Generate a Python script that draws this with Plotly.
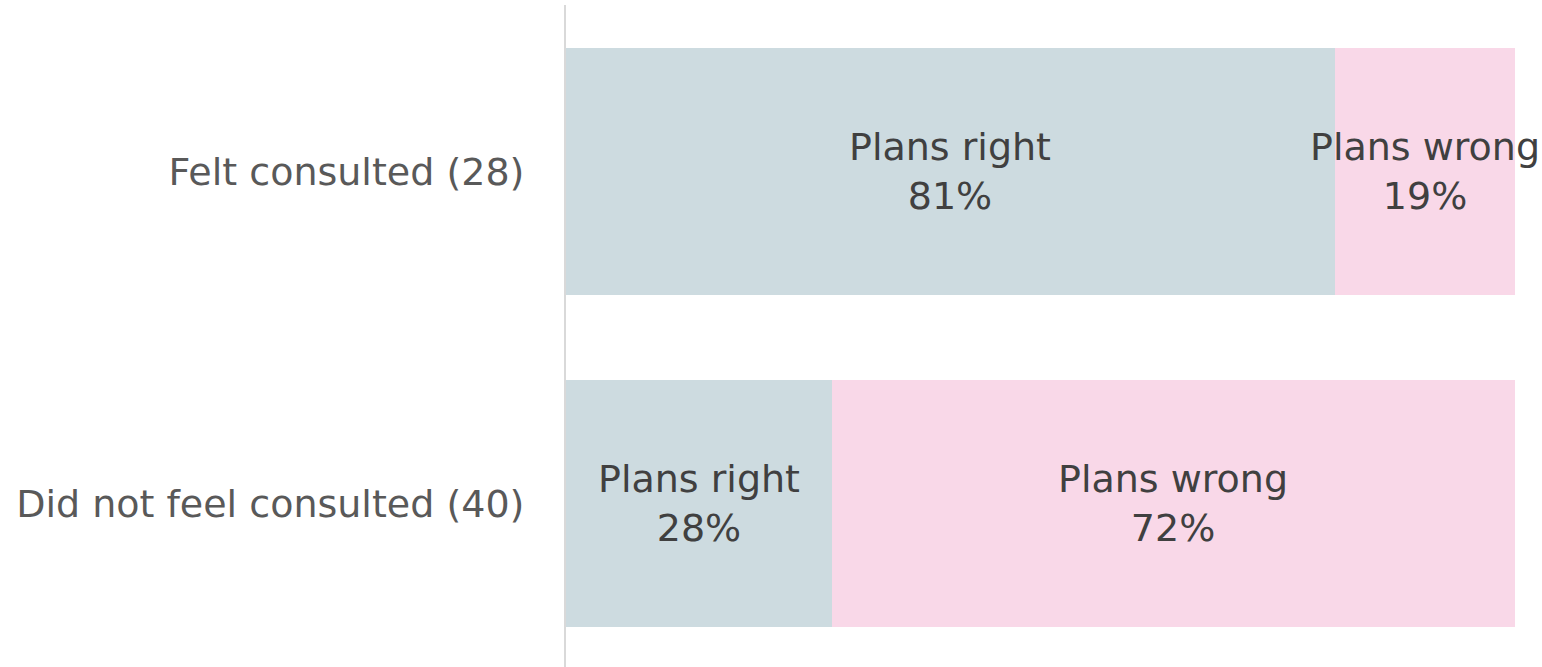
import plotly.graph_objects as go

# 데이터
categories = ["Felt consulted (28)", "Did not feel consulted (40)"]
plans_right = [81, 28]
plans_wrong = [19, 72]
series_names = ["Plans right", "Plans wrong"]

COLORS = {
    "right": "#CDDBE0",
    "wrong": "#F9D8E8",
    "tick": "#595959",
    "label": "#404040",
    "axis": "#D9D9D9",
}
FONT = "'DejaVu Sans', Verdana, sans-serif"
FONT_SIZE = 38

fig = go.Figure()
for name, vals, color in [
    (series_names[0], plans_right, COLORS["right"]),
    (series_names[1], plans_wrong, COLORS["wrong"]),
]:
    fig.add_trace(go.Bar(
        y=categories,
        x=vals,
        name=name,
        orientation="h",
        marker=dict(color=color, line=dict(width=0)),
        width=0.744,
        textposition="none",
        hoverinfo="skip",
    ))

# 구간 중앙에 라벨 (막대 밖으로 넘쳐도 그대로)
for i, cat in enumerate(categories):
    left = 0
    for name, vals in [(series_names[0], plans_right), (series_names[1], plans_wrong)]:
        v = vals[i]
        fig.add_annotation(
            x=left + v / 2, y=cat,
            text=f"{name}<br>{v}%",
            showarrow=False,
            font=dict(family=FONT, size=FONT_SIZE, color=COLORS["label"]),
            xanchor="center", yanchor="middle",
        )
        left += v

fig.update_layout(
    barmode="stack",
    width=1542, height=667,
    margin=dict(l=566, r=27, t=5, b=0),
    paper_bgcolor="white",
    plot_bgcolor="white",
    showlegend=False,
    font=dict(family=FONT, size=FONT_SIZE, color=COLORS["tick"]),
)
fig.update_xaxes(range=[0, 100], visible=False, showgrid=False, zeroline=False)
fig.update_yaxes(
    type="category",
    categoryorder="array", categoryarray=categories,
    range=[1.4925, -0.5015],
    showgrid=False, zeroline=False,
    showline=True, linecolor=COLORS["axis"], linewidth=2,
    ticks="outside", ticklen=32, tickcolor="rgba(0,0,0,0)",
    tickfont=dict(family=FONT, size=FONT_SIZE, color=COLORS["tick"]),
)

fig.write_html(
    "out.html",
    config={"displayModeBar": False},
    post_script="document.body.style.margin='0px';",
)
